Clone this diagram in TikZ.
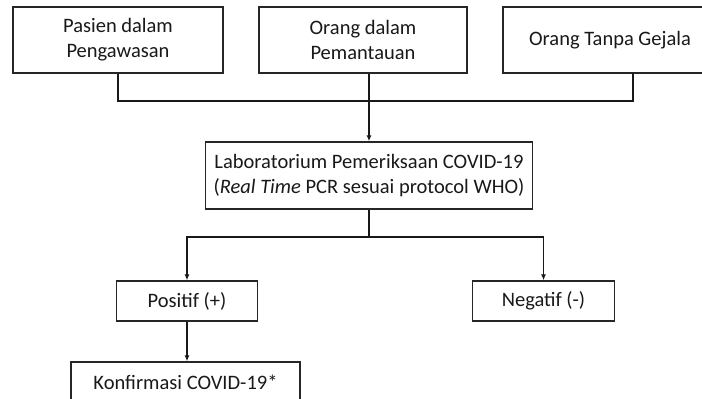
\documentclass[tikz,border=0pt]{standalone}
\usepackage{fontspec}
\setmainfont{Carlito}
\usetikzlibrary{arrows.meta}
\begin{document}
\begin{tikzpicture}[x=1pt,y=-1pt,
  box/.style={draw=black!85,line width=1.4pt,rectangle,align=center,inner sep=0pt,
    font=\fontsize{20.5}{25}\selectfont,text=black!90},
  conn/.style={draw=black!90,line width=1.2pt},
  arr/.style={conn,-{Latex[length=6pt,width=5pt]}}]
\useasboundingbox (0,0) rectangle (702,399);
\clip (0,0) rectangle (702,399);
\fill[white] (0,0) rectangle (702,399);
\node[box,minimum width=210pt,minimum height=66pt] (b1) at (118,40) {Pasien dalam\\Pengawasan};
\node[box,minimum width=208pt,minimum height=66pt] (b2) at (363,40) {Orang dalam\\Pemantauan};
\node[box,minimum width=214pt,minimum height=66pt] (b3) at (610,40) {Orang Tanpa Gejala};
\node[box,minimum width=327pt,minimum height=67pt] (lab) at (369,175.5) {Laboratorium Pemeriksaan COVID-19\\(\textit{Real Time} PCR sesuai protocol WHO)};
\node[box,minimum width=141pt,minimum height=40pt] (pos) at (187,301) {Positif (+)};
\node[box,minimum width=142pt,minimum height=40pt] (neg) at (543.5,301) {Negatif (-)};
\node[box,minimum width=229pt,minimum height=40pt] (konf) at (185.5,382) {Konfirmasi COVID-19*};
\coordinate (j1) at (118,101);
\coordinate (j3) at (633,101);
\coordinate (b3s) at (633,73);
\coordinate (jm) at (369,237);
\draw[conn] (b1.south) -- (j1) -- (j3) -- (b3s);
\draw[arr] (lab.north |- b2.south) -- (lab.north);
\draw[conn] (lab.south) -- (jm);
\draw[arr] (jm) -| (pos.north);
\draw[arr] (jm) -| (neg.north);
\draw[arr] (pos.south) -- (pos.south |- konf.north);
\end{tikzpicture}
\end{document}
